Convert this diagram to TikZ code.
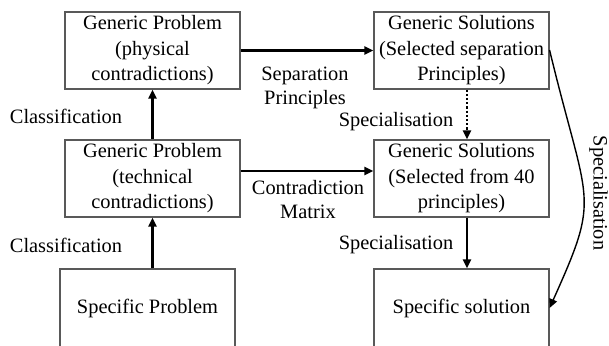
\documentclass[tikz,border=0pt]{standalone}
\usepackage{fontspec}
\setmainfont{Liberation Serif}
\usetikzlibrary{arrows.meta}
\begin{document}
\begin{tikzpicture}[x=1pt,y=-1pt,
  box/.style={draw=black!65,line width=1.1pt,minimum width=175pt,minimum height=77pt,inner sep=0pt,align=center,font=\fontsize{20.4}{25.5}\selectfont},
  lbl/.style={align=center,inner sep=0pt,font=\fontsize{20.4}{24}\selectfont},
  arr/.style={line width=2.2pt,-{Triangle[length=9pt,width=8pt]}},
  carr/.style={line width=1.4pt,-{Triangle[length=9pt,width=8pt]}}]
\useasboundingbox (0,0) rectangle (609,345);
\begin{scope}
\clip (0,0) rectangle (609,345);
\node[box] (b1) at (152.5,50.5) {Generic Problem\\(physical\\contradictions)};
\node[box] (b2) at (152.5,178.5) {Generic Problem\\(technical\\contradictions)};
\node[box,minimum height=78pt] (b3) at (147.5,308) {Specific Problem};
\node[box] (b4) at (461.5,50.5) {Generic Solutions\\(Selected separation\\Principles)};
\node[box] (b5) at (461.5,178.5) {Generic Solutions\\(Selected from 40\\principles)};
\node[box,minimum height=78pt] (b6) at (461.5,308) {Specific solution};
\end{scope}
\node[lbl] (l1) at (305,88) {Separation\\Principles};
\node[lbl] (l2) at (308,200) {Contradiction\\Matrix};
\node[lbl] (l3) at (66,116) {Classification};
\node[lbl] (l4) at (66,245) {Classification};
\node[lbl] (l5) at (396,122) {Specialisation};
\node[lbl] (l6) at (396,245) {Specialisation};
\node[lbl,rotate=-90] (l7) at (598.5,193) {Specialisation};
\draw[arr] (b1.east) -- (b4.west);
\draw[arr] ([yshift=7.5pt]b2.east) -- ([yshift=7.5pt]b5.west);
\draw[arr] (b2.north) -- (b1.south);
\draw[arr] (b2.south |- b3.north) -- (b2.south);
\draw[arr,dotted] ([xshift=5.5pt]b4.south) -- ([xshift=5.5pt]b5.north);
\draw[arr] ([xshift=5.5pt]b5.south) -- ([xshift=5.5pt]b6.north);
\draw[carr] ([yshift=0.5pt]b4.east) .. controls (588,209) and (601.5,192.5) .. (b6.east);
\end{tikzpicture}
\end{document}
